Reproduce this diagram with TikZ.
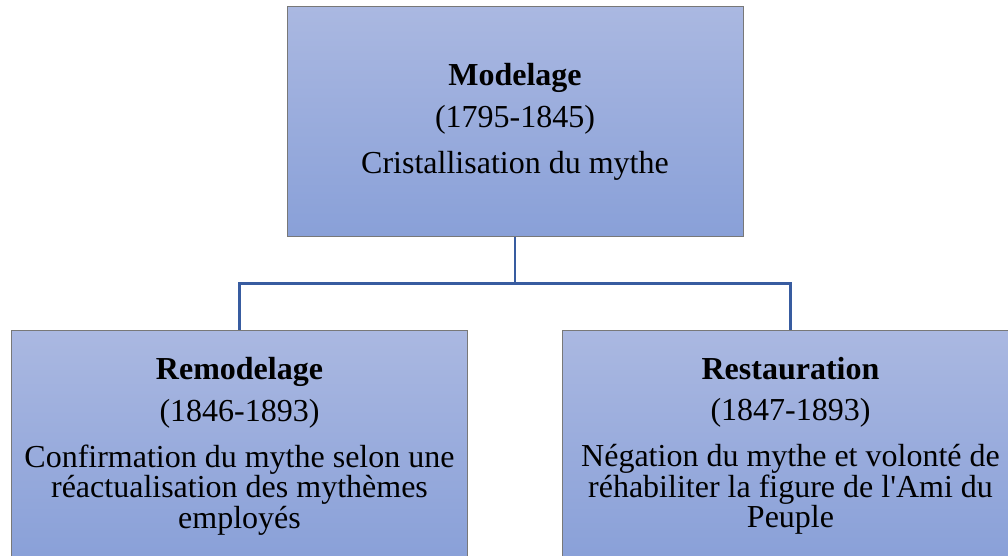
\documentclass[tikz,border=0pt]{standalone}
\usepackage{fontspec}
\setmainfont{Liberation Serif}
\definecolor{boxtop}{RGB}{170,184,225}
\definecolor{boxbot}{RGB}{137,160,216}
\definecolor{boxgray}{RGB}{120,120,120}
\definecolor{linkblue}{RGB}{56,92,160}
\begin{document}
\begin{tikzpicture}[x=1pt,y=1pt,
  box/.style={draw=boxgray, line width=1pt, top color=boxtop, bottom color=boxbot,
    minimum width=456pt, minimum height=230pt, inner sep=0pt, align=center,
    font=\fontsize{32}{29}\selectfont},
  conn/.style={draw=linkblue, line width=2.2pt}]
\path[use as bounding box] (0,0) rectangle (1008,556);
\clip (0,0) rectangle (1008,556);
\node[box] (top) at (515,434) {\textbf{Modelage}\\[12pt](1795-1845)\\[16pt]Cristallisation du mythe};
\node[box] (left) at (239.5,110) {\textbf{Remodelage}\\[12pt](1846-1893)\\[16pt]Confirmation du mythe selon une\\réactualisation des mythèmes\\employés};
\node[box] (right) at (790.5,110) {\textbf{Restauration}\\[12pt](1847-1893)\\[16pt]Négation du mythe et volonté de\\réhabiliter la figure de l\textquotesingle Ami du\\Peuple};
\coordinate (mid) at ([yshift=-46pt]top.south);
\draw[conn] (top.south) -- (mid) -| (left.north);
\draw[conn] (mid) -| (right.north);
\end{tikzpicture}
\end{document}
